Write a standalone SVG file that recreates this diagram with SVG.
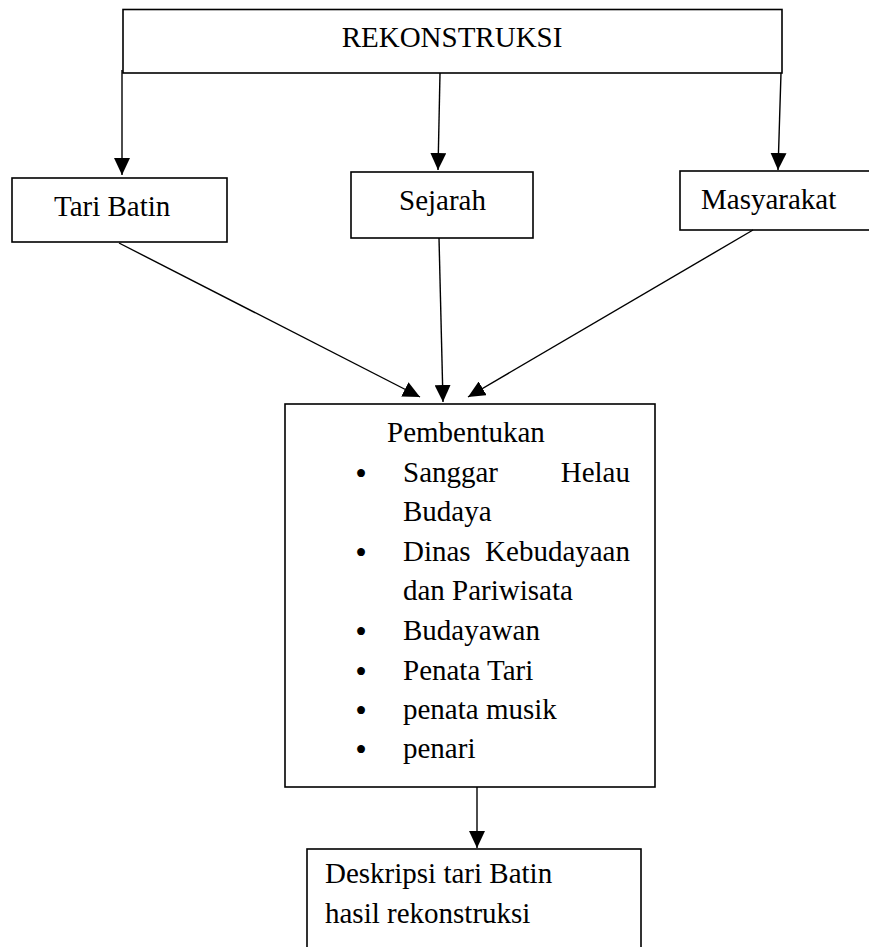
<svg xmlns="http://www.w3.org/2000/svg" width="869" height="947" viewBox="0 0 869 947">
<style>
  .box { fill: #ffffff; stroke: #000000; stroke-width: 1.6; }
  .t { font-family: "Liberation Serif", "Times New Roman", serif; font-size: 29px; fill: #000000; }
  .b { font-family: "Liberation Serif", "Times New Roman", serif; font-size: 33px; fill: #000000; text-anchor: middle; }
  .c { fill: none; stroke: #000000; stroke-width: 1.4; marker-end: url(#ah); }
</style>
<defs>
  <marker id="ah" viewBox="0 0 17 16" refX="17" refY="8" markerWidth="17" markerHeight="16" orient="auto" markerUnits="userSpaceOnUse">
    <path d="M0,0 L17,8 L0,16 Z" fill="#000000"/>
  </marker>
</defs>
<rect width="869" height="947" fill="#ffffff"/>

<g id="node-rekonstruksi">
  <rect class="box" x="123" y="9.5" width="659" height="63.5"/>
  <text class="t" x="452" y="47" text-anchor="middle">REKONSTRUKSI</text>
</g>

<g id="node-tari-batin">
  <rect class="box" x="12" y="178" width="215" height="64"/>
  <text class="t" x="54" y="216">Tari Batin</text>
</g>

<g id="node-sejarah">
  <rect class="box" x="351" y="172" width="182" height="66"/>
  <text class="t" x="399" y="210">Sejarah</text>
</g>

<g id="node-masyarakat">
  <rect class="box" x="680" y="171" width="210" height="59"/>
  <text class="t" x="701" y="209">Masyarakat</text>
</g>

<g id="node-pembentukan">
  <rect class="box" x="285" y="404" width="370" height="383"/>
  <text class="t" x="387" y="442">Pembentukan</text>
  <text class="b" x="361" y="484.5">•</text>
  <text class="t" x="403" y="482">Sanggar</text>
  <text class="t" x="630" y="482" text-anchor="end">Helau</text>
  <text class="t" x="403" y="521">Budaya</text>
  <text class="b" x="361" y="563.5">•</text>
  <text class="t" x="403" y="561">Dinas</text>
  <text class="t" x="630" y="561" text-anchor="end">Kebudayaan</text>
  <text class="t" x="403" y="600">dan Pariwisata</text>
  <text class="b" x="361" y="642.5">•</text>
  <text class="t" x="403" y="640">Budayawan</text>
  <text class="b" x="361" y="682.5">•</text>
  <text class="t" x="403" y="680">Penata Tari</text>
  <text class="b" x="361" y="721.5">•</text>
  <text class="t" x="403" y="719">penata musik</text>
  <text class="b" x="361" y="760.5">•</text>
  <text class="t" x="403" y="758">penari</text>
</g>

<g id="node-deskripsi">
  <rect class="box" x="307" y="849" width="334" height="120"/>
  <text class="t" x="325" y="883">Deskripsi tari Batin</text>
  <text class="t" x="325" y="923">hasil rekonstruksi</text>
</g>

<g id="connectors">
  <line class="c" x1="122" y1="70" x2="122" y2="175"/>
  <line class="c" x1="440" y1="73" x2="438" y2="170"/>
  <line class="c" x1="781" y1="73" x2="778" y2="170"/>
  <line class="c" x1="119" y1="243" x2="420" y2="397"/>
  <line class="c" x1="439" y1="238" x2="443" y2="402"/>
  <line class="c" x1="753" y1="230" x2="468" y2="397"/>
  <line class="c" x1="477" y1="787" x2="477" y2="848"/>
</g>
</svg>
